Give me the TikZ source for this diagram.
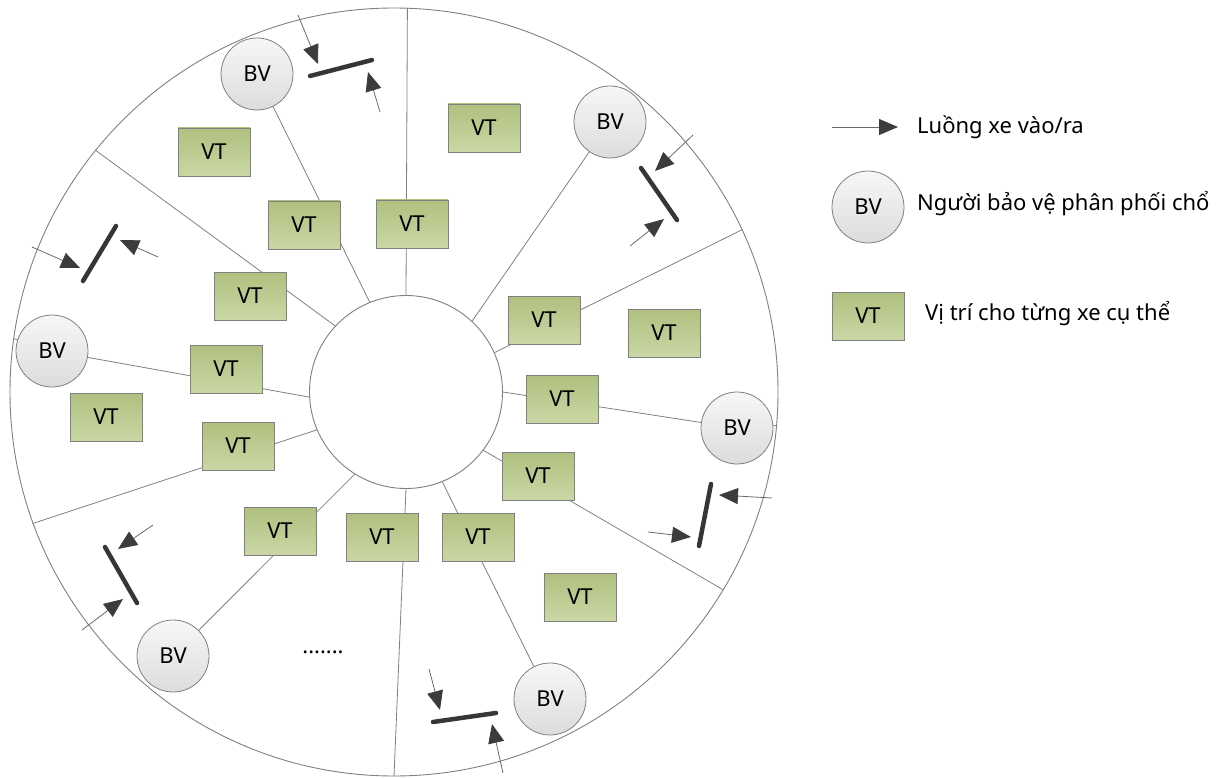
\documentclass[tikz,border=0pt]{standalone}
\usepackage{fontspec}
\setmainfont{Noto Sans}
\usetikzlibrary{arrows.meta}
\pgfdeclarelayer{background}
\pgfsetlayers{background,main}

\definecolor{edge}{HTML}{808080}
\definecolor{spotTop}{HTML}{AFC07F}
\definecolor{spotBot}{HTML}{CAD7A5}
\definecolor{guardTop}{HTML}{F7F7F7}
\definecolor{guardBot}{HTML}{DCDCDC}
\definecolor{gateInk}{HTML}{363636}
\definecolor{flowInk}{HTML}{3C3C3C}
\definecolor{flowLine}{HTML}{6A6A6A}

\newcommand\diagfont{\fontsize{22}{26}\selectfont}

\tikzset{
  spot/.style={draw=edge, line width=0.8pt, top color=spotTop, bottom color=spotBot,
    minimum width=72pt, minimum height=48pt, inner sep=0pt, font=\diagfont},
  guard/.style={circle, draw=edge, line width=0.8pt, top color=guardTop, bottom color=guardBot,
    minimum size=72pt, inner sep=0pt, font=\diagfont},
  ring/.style={circle, draw=edge, line width=0.9pt, inner sep=0pt},
  spoke/.style={draw=edge, line width=0.8pt},
  gate/.style={draw=gateInk, line width=4.5pt, line cap=round},
  flow/.style={draw=flowLine, line width=0.8pt,
    -{Triangle[length=19pt, width=16pt, color=flowInk]}},
  legendtext/.style={anchor=west, font=\diagfont, inner sep=0pt}
}

\begin{document}
\begin{tikzpicture}[x=1pt, y=-1pt]
\useasboundingbox (0,0) rectangle (1221,778);

% outer boundary and central hub
\node[ring, minimum size=768pt] (outer) at (394,392) {};
\node[ring, fill=white, minimum size=193pt] (hub) at (406,392) {};

% guards
\node[guard] (bvTL) at (257,74) {BV};
\node[guard] (bvTR) at (610,122) {BV};
\node[guard] (bvL)  at (52,351) {BV};
\node[guard] (bvR)  at (737,428) {BV};
\node[guard] (bvBL) at (173,656) {BV};
\node[guard] (bvB)  at (550,699) {BV};

% parking spots
\node[spot] (vt1)  at (214,152) {VT};
\node[spot] (vt2)  at (304,225) {VT};
\node[spot] (vt3)  at (412,224) {VT};
\node[spot] (vt4)  at (484,128) {VT};
\node[spot] (vt5)  at (250,296) {VT};
\node[spot] (vt6)  at (544,320) {VT};
\node[spot] (vt7)  at (664,333) {VT};
\node[spot] (vt8)  at (226,369) {VT};
\node[spot] (vt9)  at (106,417) {VT};
\node[spot] (vt10) at (562,399) {VT};
\node[spot] (vt11) at (238,446) {VT};
\node[spot] (vt12) at (538,476) {VT};
\node[spot] (vt13) at (280,531) {VT};
\node[spot] (vt14) at (382,537) {VT};
\node[spot] (vt15) at (478,537) {VT};
\node[spot] (vt16) at (580,597) {VT};

\node[font=\diagfont, inner sep=0pt] (more) at (323,652) {.......};

% sector dividers and guard links, behind the nodes
\begin{pgfonlayer}{background}
  \draw[spoke] (hub.90)    -- (outer.88.2);
  \draw[spoke] (hub.137.5) -- (outer.141.7);
  \draw[spoke] (hub.203)   -- (outer.200.7);
  \draw[spoke] (hub.270)   -- (outer.270.3);
  \draw[spoke] (hub.-37.5) -- (outer.-31.1);
  \draw[spoke] (hub.24.7)  -- (outer.25.3);

  \draw[spoke] (hub.112)   -- (bvTL.center);
  \draw[spoke] (hub.47)    -- (bvTR.center);
  \draw[spoke] (hub.183)   -- (bvL.center) -- (outer.172.7);
  \draw[spoke] (hub.0)     -- (bvR.center) -- (outer.-5.4);
  \draw[spoke] (hub.238.4) -- (bvBL.center);
  \draw[spoke] (hub.292)   -- (bvB.center);
\end{pgfonlayer}

% gates with their in/out flows
\coordinate (g1a) at (310,76);  \coordinate (g1b) at (372,60);
\coordinate (f1a) at (298,15);  \coordinate (f1b) at (318,64);
\coordinate (f1c) at (380,112); \coordinate (f1d) at (368,72);
\draw[gate] (g1a) -- (g1b);
\draw[flow] (f1a) -- (f1b);
\draw[flow] (f1c) -- (f1d);

\coordinate (g2a) at (641,168); \coordinate (g2b) at (677,220);
\coordinate (f2a) at (693,135); \coordinate (f2b) at (655,171);
\coordinate (f2c) at (630,246); \coordinate (f2d) at (664,219);
\draw[gate] (g2a) -- (g2b);
\draw[flow] (f2a) -- (f2b);
\draw[flow] (f2c) -- (f2d);

\coordinate (g3a) at (711,484); \coordinate (g3b) at (699,546);
\coordinate (f3a) at (772,498); \coordinate (f3b) at (719,495);
\coordinate (f3c) at (648,532); \coordinate (f3d) at (691,537);
\draw[gate] (g3a) -- (g3b);
\draw[flow] (f3a) -- (f3b);
\draw[flow] (f3c) -- (f3d);

\coordinate (g4a) at (433,722); \coordinate (g4b) at (496,713);
\coordinate (f4a) at (429,669); \coordinate (f4b) at (440,710);
\coordinate (f4c) at (503,773); \coordinate (f4d) at (492,724);
\draw[gate] (g4a) -- (g4b);
\draw[flow] (f4a) -- (f4b);
\draw[flow] (f4c) -- (f4d);

\coordinate (g5a) at (105,547); \coordinate (g5b) at (137,603);
\coordinate (f5a) at (153,525); \coordinate (f5b) at (118,549);
\coordinate (f5c) at (82,630);  \coordinate (f5d) at (123,599);
\draw[gate] (g5a) -- (g5b);
\draw[flow] (f5a) -- (f5b);
\draw[flow] (f5c) -- (f5d);

\coordinate (g6a) at (116,226); \coordinate (g6b) at (83,281);
\coordinate (f6a) at (32,247);  \coordinate (f6b) at (80,268);
\coordinate (f6c) at (158,257); \coordinate (f6d) at (120,240);
\draw[gate] (g6a) -- (g6b);
\draw[flow] (f6a) -- (f6b);
\draw[flow] (f6c) -- (f6d);

% legend
\coordinate (lgA) at (832,127); \coordinate (lgB) at (898,127);
\draw[flow] (lgA) -- (lgB);
\node[legendtext] (lgFlow) at (917,127) {Luồng xe vào/ra};
\node[guard] (lgGuard) at (868,207) {BV};
\node[legendtext] (lgGuardText) at (917,204) {Người bảo vệ phân phối chổ};
\node[spot] (lgSpot) at (868,316) {VT};
\node[legendtext] (lgSpotText) at (925,314) {Vị trí cho từng xe cụ thể};
\end{tikzpicture}
\end{document}
